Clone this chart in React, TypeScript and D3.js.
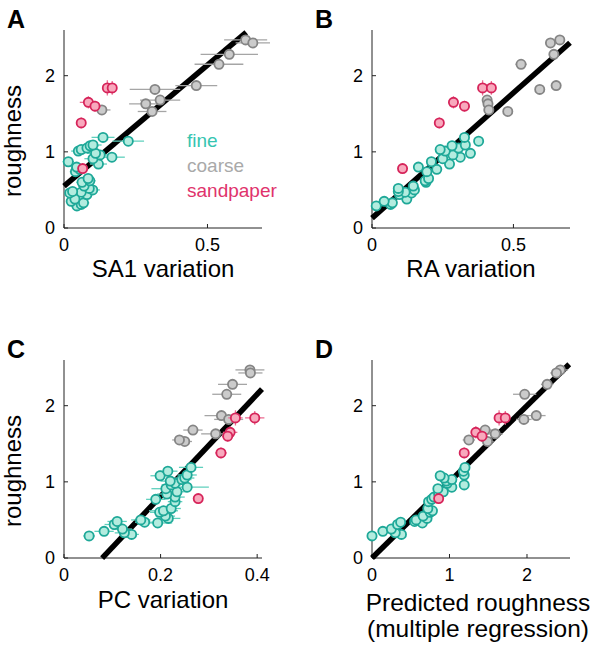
import React from "react";
import * as d3 from "d3";

// ---------- data ----------
const FINE_Y = [0.29, 0.31, 0.33, 0.35, 0.38, 0.44, 0.46, 0.47, 0.48, 0.5, 0.52, 0.55, 0.6, 0.62, 0.65, 0.74, 0.77, 0.8, 0.84, 0.87, 0.91, 0.93, 0.96, 0.98, 1.01, 1.03, 1.05, 1.08, 1.09, 1.14, 1.19];
const FINE_X_A = [0.045, 0.06, 0.068, 0.025, 0.038, 0.08, 0.02, 0.06, 0.03, 0.1, 0.088, 0.07, 0.063, 0.09, 0.084, 0.04, 0.055, 0.044, 0.12, 0.015, 0.101, 0.167, 0.126, 0.11, 0.05, 0.06, 0.08, 0.091, 0.101, 0.224, 0.136];
const FINE_X_B = [0.015, 0.066, 0.072, 0.043, 0.123, 0.097, 0.14, 0.117, 0.093, 0.15, 0.093, 0.146, 0.191, 0.188, 0.2, 0.194, 0.229, 0.164, 0.274, 0.21, 0.25, 0.312, 0.286, 0.348, 0.259, 0.241, 0.306, 0.283, 0.33, 0.377, 0.327];
const FINE_X_C = [0.052, 0.14, 0.125, 0.083, 0.121, 0.104, 0.194, 0.167, 0.11, 0.159, 0.216, 0.21, 0.198, 0.206, 0.222, 0.23, 0.19, 0.23, 0.213, 0.234, 0.211, 0.255, 0.222, 0.23, 0.22, 0.244, 0.25, 0.199, 0.255, 0.215, 0.263];
const FINE_X_D = [0.0, 0.38, 0.3, 0.14, 0.25, 0.33, 0.65, 0.37, 0.55, 0.57, 0.71, 0.66, 0.75, 0.78, 0.72, 0.73, 0.77, 0.8, 0.86, 0.92, 0.85, 1.03, 1.19, 0.97, 0.96, 1.03, 0.93, 0.88, 1.19, 1.18, 1.2];
const FINE_XERR_A = [0.02, 0.02, 0.02, 0.015, 0.02, 0.02, 0.015, 0.02, 0.015, 0.025, 0.02, 0.02, 0.02, 0.02, 0.02, 0.02, 0.02, 0.02, 0.03, 0.02, 0.03, 0.045, 0.03, 0.03, 0.025, 0.025, 0.03, 0.03, 0.03, 0.055, 0.04];
const FINE_XERR_B = [0.006, 0.006, 0.006, 0.006, 0.006, 0.006, 0.006, 0.006, 0.006, 0.006, 0.006, 0.006, 0.006, 0.006, 0.006, 0.006, 0.006, 0.006, 0.006, 0.006, 0.006, 0.006, 0.006, 0.006, 0.006, 0.006, 0.006, 0.006, 0.006, 0.006, 0.006];
const FINE_XERR_C = [0.012, 0.015, 0.02, 0.02, 0.02, 0.02, 0.03, 0.02, 0.02, 0.02, 0.025, 0.02, 0.02, 0.03, 0.02, 0.015, 0.02, 0.02, 0.02, 0.02, 0.03, 0.045, 0.02, 0.02, 0.02, 0.02, 0.02, 0.02, 0.02, 0.02, 0.025];
const FINE_XERR_D = [0.03, 0.03, 0.03, 0.03, 0.03, 0.03, 0.03, 0.03, 0.03, 0.03, 0.03, 0.03, 0.03, 0.03, 0.03, 0.03, 0.03, 0.03, 0.03, 0.03, 0.03, 0.03, 0.03, 0.03, 0.03, 0.03, 0.03, 0.03, 0.03, 0.03, 0.03];
const FINE_YERR = 0.04;

const COARSE_Y = [2.47, 2.43, 2.28, 2.15, 1.87, 1.82, 1.68, 1.63, 1.53, 1.55];
const COARSE_X_A = [0.633, 0.658, 0.576, 0.54, 0.461, 0.317, 0.335, 0.285, 0.307, 0.132];
const COARSE_X_B = [0.664, 0.631, 0.643, 0.527, 0.651, 0.593, 0.407, 0.41, 0.48, 0.413];
const COARSE_X_C = [0.385, 0.386, 0.349, 0.337, 0.326, 0.341, 0.267, 0.314, 0.25, 0.239];
const COARSE_X_D = [2.43, 2.38, 2.26, 1.97, 2.12, 1.96, 1.46, 1.59, 1.49, 1.25];
const COARSE_XERR_A = [0.075, 0.06, 0.1, 0.085, 0.073, 0.088, 0.07, 0.058, 0.05, 0.03];
const COARSE_XERR_B = [0.01, 0.012, 0.015, 0.02, 0.01, 0.01, 0.012, 0.012, 0.01, 0.01];
const COARSE_XERR_C = [0.03, 0.025, 0.03, 0.03, 0.035, 0.03, 0.02, 0.03, 0.015, 0.015];
const COARSE_XERR_D = [0.1, 0.08, 0.08, 0.15, 0.12, 0.1, 0.12, 0.1, 0.08, 0.08];
const COARSE_YERR = 0.04;

const SAND_Y = [1.84, 1.84, 1.65, 1.6, 1.38, 0.78];
const SAND_X_A = [0.151, 0.168, 0.085, 0.108, 0.06, 0.065];
const SAND_X_B = [0.391, 0.422, 0.288, 0.327, 0.238, 0.108];
const SAND_X_C = [0.355, 0.395, 0.344, 0.339, 0.325, 0.278];
const SAND_X_D = [1.64, 1.72, 1.34, 1.42, 1.19, 0.86];
const SAND_XERR_A = [0.015, 0.01, 0.03, 0.02, 0.015, 0.01];
const SAND_XERR_B = [0.008, 0.008, 0.008, 0.008, 0.008, 0.008];
const SAND_XERR_C = [0.015, 0.02, 0.015, 0.012, 0.012, 0.01];
const SAND_XERR_D = [0.05, 0.05, 0.05, 0.05, 0.04, 0.04];
const SAND_YERR = [0.1, 0.09, 0.08, 0.07, 0.07, 0.06];

// regression lines: [intercept, slope, xStart, xEnd]
const FIT_A = [0.55, 3.18, 0.0, 0.635];
const FIT_B = [0.13, 3.29, 0.0, 0.7];
const FIT_C = [-0.53, 6.7, 0.079, 0.41];
const FIT_D = [0.0, 1.0, 0.0, 2.545];

const X_TICKS_A = [0, 0.5];
const X_TICKS_B = [0, 0.5];
const X_TICKS_C = [0, 0.2, 0.4];
const X_TICKS_D = [0, 1, 2];
const Y_TICKS = [0, 1, 2];

const PANEL_LETTERS = ["A", "B", "C", "D"];
const X_LABELS = [["SA1 variation"], ["RA variation"], ["PC variation"], ["Predicted roughness", "(multiple regression)"]];
const LEGEND = ["fine", "coarse", "sandpaper"];

// ---------- style ----------
const FONT = "'Liberation Sans', Arial, Helvetica, sans-serif";
const GROUP_STYLE = {
  fine: { fill: "#b3ecdf", stroke: "#1ea898", bar: "#5fd0bd" },
  coarse: { fill: "#cbcbcb", stroke: "#858585", bar: "#a5a5a5" },
  sand: { fill: "#f8a9bd", stroke: "#d6245a", bar: "#ec6f93" },
};
const LEGEND_COLORS = ["#36c5b1", "#a9a9a9", "#e0336c"];

type Group = { key: "fine" | "coarse" | "sand"; x: number[]; y: number[]; xerr: number[]; yerr: number[] };

type PanelDef = {
  letter: string;
  left: number;
  top: number;
  xDomain: [number, number];
  xTicks: number[];
  xTickFmt: (v: number) => string;
  xLabel: string[];
  xLabelDx: number;
  xLabelDy: number;
  xLabelSize: number;
  xLabelGap: number;
  showYLabel: boolean;
  fit: number[];
  groups: Group[];
  legend: boolean;
};

const W = 198;
const H = 198;
const Y_MAX = 2.6;

const fmtDec = (v: number) => (v === 0 ? "0" : String(v));

function mk(xs: number[], ys: number[], xe: number[], ye: number[] | number, key: Group["key"]): Group {
  return { key, x: xs, y: ys, xerr: xe, yerr: ys.map((_, i) => (Array.isArray(ye) ? ye[i] : ye)) };
}

const PANELS: PanelDef[] = [
  {
    letter: PANEL_LETTERS[0], left: 64, top: 30, xDomain: [0, 0.69], xTicks: X_TICKS_A, xTickFmt: fmtDec,
    xLabel: X_LABELS[0], xLabelDx: 0, xLabelDy: 49, xLabelSize: 24, xLabelGap: 0, showYLabel: true, fit: FIT_A, legend: true,
    groups: [
      mk(FINE_X_A, FINE_Y, FINE_XERR_A, FINE_YERR, "fine"),
      mk(COARSE_X_A, COARSE_Y, COARSE_XERR_A, COARSE_YERR, "coarse"),
      mk(SAND_X_A, SAND_Y, SAND_XERR_A, SAND_YERR, "sand"),
    ],
  },
  {
    letter: PANEL_LETTERS[1], left: 372, top: 30, xDomain: [0, 0.7], xTicks: X_TICKS_B, xTickFmt: fmtDec,
    xLabel: X_LABELS[1], xLabelDx: 0, xLabelDy: 49, xLabelSize: 24, xLabelGap: 0, showYLabel: false, fit: FIT_B, legend: false,
    groups: [
      mk(FINE_X_B, FINE_Y, FINE_XERR_B, FINE_YERR, "fine"),
      mk(COARSE_X_B, COARSE_Y, COARSE_XERR_B, COARSE_YERR, "coarse"),
      mk(SAND_X_B, SAND_Y, SAND_XERR_B, SAND_YERR, "sand"),
    ],
  },
  {
    letter: PANEL_LETTERS[2], left: 64, top: 360, xDomain: [0, 0.41], xTicks: X_TICKS_C, xTickFmt: fmtDec,
    xLabel: X_LABELS[2], xLabelDx: 0, xLabelDy: 50, xLabelSize: 24, xLabelGap: 0, showYLabel: true, fit: FIT_C, legend: false,
    groups: [
      mk(FINE_X_C, FINE_Y, FINE_XERR_C, FINE_YERR, "fine"),
      mk(COARSE_X_C, COARSE_Y, COARSE_XERR_C, COARSE_YERR, "coarse"),
      mk(SAND_X_C, SAND_Y, SAND_XERR_C, SAND_YERR, "sand"),
    ],
  },
  {
    letter: PANEL_LETTERS[3], left: 372, top: 360, xDomain: [0, 2.555], xTicks: X_TICKS_D, xTickFmt: fmtDec,
    xLabel: X_LABELS[3], xLabelDx: 7, xLabelDy: 53, xLabelSize: 24.5, xLabelGap: 25.5, showYLabel: false, fit: FIT_D, legend: false,
    groups: [
      mk(FINE_X_D, FINE_Y, FINE_XERR_D, FINE_YERR, "fine"),
      mk(COARSE_X_D, COARSE_Y, COARSE_XERR_D, COARSE_YERR, "coarse"),
      mk(SAND_X_D, SAND_Y, SAND_XERR_D, SAND_YERR, "sand"),
    ],
  },
];

function Panel({ p }: { p: PanelDef }) {
  const x = d3.scaleLinear().domain(p.xDomain).range([0, W]);
  const y = d3.scaleLinear().domain([0, Y_MAX]).range([H, 0]);
  const [b0, b1, xs, xe] = p.fit;
  const fitLine = d3.line<number>().x((v) => x(v)).y((v) => y(b0 + b1 * v))([xs, xe]) || "";
  const axisColor = "#222";
  return (
    <g transform={`translate(${p.left},${p.top})`}>
      {/* panel letter */}
      <text x={-57} y={-2} fontSize={25} fontWeight="bold" fontFamily={FONT} fill="#000">
        {p.letter}
      </text>
      {/* axes */}
      <line x1={0} x2={0} y1={0} y2={H} stroke={axisColor} strokeWidth={1} />
      <line x1={0} x2={W} y1={H} y2={H} stroke={axisColor} strokeWidth={1} />
      {Y_TICKS.map((t) => (
        <g key={"yt" + t}>
          <line x1={0} x2={4} y1={y(t)} y2={y(t)} stroke={axisColor} strokeWidth={1} />
          <text x={-9} y={y(t) + 6} fontSize={18} textAnchor="end" fontFamily={FONT} fill="#000">
            {t}
          </text>
        </g>
      ))}
      {p.xTicks.map((t) => (
        <g key={"xt" + t}>
          <line x1={x(t)} x2={x(t)} y1={H} y2={H - 4} stroke={axisColor} strokeWidth={1} />
          <text x={x(t)} y={H + 23} fontSize={18} textAnchor="middle" fontFamily={FONT} fill="#000">
            {p.xTickFmt(t)}
          </text>
        </g>
      ))}
      {/* axis labels */}
      {p.xLabel.map((s, i) => (
        <text key={s} x={W / 2 + p.xLabelDx} y={H + p.xLabelDy + i * p.xLabelGap} fontSize={p.xLabelSize} textAnchor="middle" fontFamily={FONT} fill="#000">
          {s}
        </text>
      ))}
      {p.showYLabel && (
        <text transform={`translate(${-43},${H / 2 + 12}) rotate(-90)`} fontSize={24} textAnchor="middle" fontFamily={FONT} fill="#000">
          roughness
        </text>
      )}
      {/* regression line */}
      <path d={fitLine} stroke="#000" strokeWidth={5.5} fill="none" />
      {/* data */}
      {p.groups.map((g) => {
        const st = GROUP_STYLE[g.key];
        return (
          <g key={g.key}>
            {g.x.map((xv, i) => (
              <g key={"e" + i}>
                <line x1={x(xv - g.xerr[i])} x2={x(xv + g.xerr[i])} y1={y(g.y[i])} y2={y(g.y[i])} stroke={st.bar} strokeWidth={1.3} />
                <line x1={x(xv)} x2={x(xv)} y1={y(g.y[i] - g.yerr[i])} y2={y(g.y[i] + g.yerr[i])} stroke={st.bar} strokeWidth={1.3} />
              </g>
            ))}
            {g.x.map((xv, i) => (
              <circle key={"c" + i} cx={x(xv)} cy={y(g.y[i])} r={4.6} fill={st.fill} stroke={st.stroke} strokeWidth={1.8} />
            ))}
          </g>
        );
      })}
      {p.legend &&
        LEGEND.map((s, i) => (
          <text key={s} x={123} y={117 + i * 25} fontSize={19} fontFamily={FONT} fill={LEGEND_COLORS[i]}>
            {s}
          </text>
        ))}
    </g>
  );
}

export default function App() {
  return (
    <svg width={593} height={647} style={{ position: "absolute", left: 0, top: 0, background: "#fff" }}>
      <rect width={593} height={647} fill="#fff" />
      {PANELS.map((p) => (
        <Panel key={p.letter} p={p} />
      ))}
    </svg>
  );
}
